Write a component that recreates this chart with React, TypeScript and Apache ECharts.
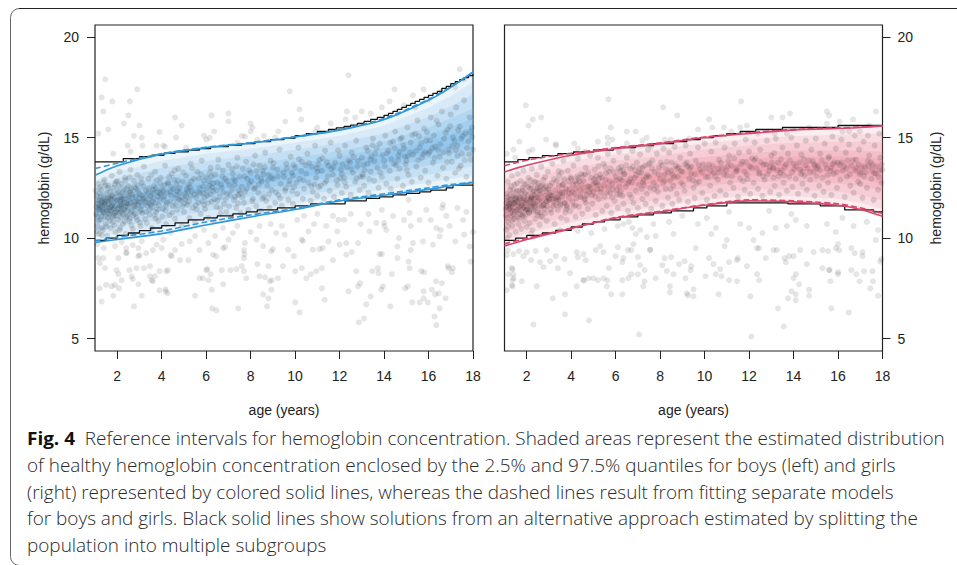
import React, { useEffect, useRef } from "react";
import * as echarts from "echarts";

const knots = [1, 2, 4, 6, 8, 10, 12, 14, 16, 17, 18];
const tickAges = [2, 4, 6, 8, 10, 12, 14, 16, 18];
const tickHb = [5, 10, 15, 20];

// boys: quantile curves, solid
const boysUp = [13.12, 13.6, 14.17, 14.5, 14.73, 15.03, 15.37, 15.9, 16.86, 17.5, 18.27];
const boysLow = [9.78, 9.93, 10.22, 10.65, 11.05, 11.42, 11.84, 12.13, 12.42, 12.6, 12.76];
const boysUpDash = [13.46, 13.72, 14.2, 14.52, 14.75, 15.05, 15.4, 15.95, 16.9, 17.52, 18.25];
const boysLowDash = [9.85, 10.04, 10.35, 10.8, 11.15, 11.47, 11.9, 12.2, 12.5, 12.66, 12.78];
// boys: nested shaded layers
const boysBands = [
  [boysUp, boysLow],
  [[12.85, 13.3, 13.85, 14.19, 14.44, 14.74, 15.08, 15.59, 16.48, 17.07, 17.76], [10.05, 10.22, 10.54, 10.96, 11.34, 11.7, 12.11, 12.42, 12.75, 12.95, 13.13]],
  [[12.54, 12.95, 13.48, 13.83, 14.09, 14.39, 14.73, 15.22, 16.03, 16.56, 17.16], [10.36, 10.57, 10.91, 11.33, 11.69, 12.04, 12.44, 12.77, 13.15, 13.37, 13.58]],
  [[12.17, 12.55, 13.05, 13.41, 13.68, 13.99, 14.33, 14.79, 15.51, 15.96, 16.46], [10.73, 10.97, 11.35, 11.75, 12.1, 12.43, 12.81, 13.17, 13.61, 13.85, 14.09]],
  [[11.9, 12.25, 12.73, 13.1, 13.39, 13.69, 14.04, 14.48, 15.14, 15.53, 15.96], [11.0, 11.26, 11.67, 12.06, 12.39, 12.72, 13.09, 13.46, 13.94, 14.21, 14.47]],
  [[11.67, 11.99, 12.46, 12.83, 13.13, 13.44, 13.79, 14.2, 14.81, 15.15, 15.51], [11.23, 11.51, 11.94, 12.33, 12.65, 12.97, 13.33, 13.71, 14.23, 14.51, 14.8]],
];
const boysStepUp = [[1,13.79],[2.27,13.95],[3,14.05],[3.55,14.12],[4.1,14.22],[4.6,14.29],[5.2,14.38],[5.7,14.45],[6.2,14.55],[7,14.63],[7.6,14.7],[8.2,14.8],[8.9,14.9],[9.5,14.97],[10,15.1],[10.5,15.2],[11,15.3],[11.5,15.4],[11.85,15.48],[12.2,15.55],[12.5,15.62],[12.8,15.7],[13.1,15.8],[13.4,15.9],[13.7,16.0],[14,16.1],[14.2,16.2],[14.4,16.3],[14.6,16.4],[14.8,16.5],[15,16.6],[15.2,16.7],[15.4,16.8],[15.6,16.9],[15.8,17.0],[16,17.1],[16.2,17.2],[16.4,17.3],[16.6,17.45],[16.8,17.55],[17,17.68],[17.2,17.78],[17.4,17.88],[17.6,17.98],[17.8,18.08],[18,18.15]];
const boysStepLow = [[1,9.88],[1.5,10.0],[2,10.13],[2.5,10.25],[3,10.37],[3.5,10.5],[4,10.62],[4.6,10.75],[5.2,10.9],[5.9,11.0],[6.5,11.1],[7.2,11.2],[7.8,11.3],[8.3,11.4],[9.2,11.5],[10,11.6],[10.7,11.7],[12.25,11.85],[13.2,11.97],[13.8,12.05],[14.4,12.15],[15,12.22],[15.6,12.3],[16.1,12.38],[16.8,12.5],[17.1,12.63],[18,12.63]];

const boysHigh = [[1.46,17.9],[1.3,17],[1.37,16.3],[1.78,16.8],[2.57,16.8],[2.9,17.4],[2.5,16.1],[2.3,15.7],[3,15.6],[1.6,15.4],[1.15,15.2],[2.75,15.08],[3.1,15],[2.47,14.6],[3.14,14.6],[2.6,14.3],[1.82,14.2],[3.9,15.28],[4.6,16],[4.9,15.6],[4.64,15],[6.24,16.1],[7,16.2],[7,15.8],[6.36,15.3],[5.9,15.1],[6.16,15],[8,15.7],[8.08,15.5],[8,15.3],[7.6,15.08],[7.75,15.05],[8.6,15.08],[9.76,17.3],[9.56,15.8],[9.24,15.3],[10.2,16.4],[10.28,15.9],[12.4,18.1],[12.33,16.3],[13,16.3],[12.27,15.9],[14.47,17.4],[14.25,16.8],[17.4,18.4],[15.78,17.4],[14.9,16.6],[11,15.5],[4.07,14.6],[3.77,14.6],[4.15,14.55],[5.1,14.5],[6,14.9],[7.4,14.75],[8.3,14.9],[9.1,15],[10.9,15.3],[11.6,15.7],[12.7,16],[13.4,16.2],[13.9,16.5],[15.3,17.1],[16,16.9],[16.6,17.3],[17.2,17.5],[17.6,17.9],[15.4,16.5],[14.6,16.2]];
const boysBelow = [[1.3,6.84],[1.2,7.5],[1.5,7.67],[1.75,7.6],[1.9,7.67],[1.82,7.13],[2.08,7.5],[2.75,6.6],[3.1,7.13],[2.95,7.7],[2.2,7.9],[2.65,8.1],[2.7,7.95],[2.05,8.2],[1.97,8.4],[2.55,8.4],[2.87,8.5],[3.2,8.5],[3.47,8.6],[3.47,8.1],[3.7,8.1],[3.6,7.85],[3.55,7.9],[3.9,8.35],[4.2,8.35],[4.28,8.4],[3.9,7.4],[4.17,7.45],[4.26,7.25],[4.18,7.35],[5.5,7.13],[6.27,6.5],[6.46,6.4],[7.44,6.5],[8.74,6.6],[8.8,7],[8.56,7.2],[8.93,7.43],[8.86,7.85],[8.95,7.9],[9.23,8],[8.4,8.1],[8.65,8.05],[7.8,8],[6,8.4],[6.05,8.45],[6.2,8.2],[6.1,7.9],[6.25,7.43],[6.76,7.7],[5.7,8],[5.85,8],[6.7,8.4],[7.1,8.4],[7.36,8.45],[7.6,8.6],[7.7,8.35],[7.7,9],[7.72,9.2],[7.7,9.4],[8.3,8.7],[8.8,8.6],[9.45,8.6],[10,6.8],[10.2,6.3],[10,8.35],[10.3,8.5],[10.5,8],[10.7,8.2],[10.95,8.35],[11.2,8.5],[11.2,7.5],[11.33,6.93],[11.7,8.9],[12.4,7.35],[12.75,8.35],[12.83,7.6],[12.93,7.75],[13.2,6.7],[12.87,5.8],[13.1,6],[13.4,7.1],[13.87,7.43],[13.95,7.6],[13.47,8.35],[13.72,8.5],[13.75,8.25],[14.35,8.2],[14.28,6.6],[14.95,7.5],[15.07,7.6],[15.27,6.8],[15.6,6.8],[15.78,7.35],[15.78,7],[15.97,6.8],[16.15,7.43],[16.3,7.2],[16.46,7.25],[16.34,7.85],[16.6,7.75],[16.5,6.5],[16.27,6.1],[16.35,5.67],[16.77,7],[16.87,8.6],[17.1,8.5],[17.05,8.3],[15.67,8.35],[15.8,8.3],[15.15,8.5],[15.1,8.83],[14.6,9],[17.9,8.83],[16.9,8.5],[1.15,9],[1.37,9],[1.22,8.75],[1.45,8.5],[2.05,9],[2.4,9.25],[2.42,9.27],[2.4,9.5],[2.95,9.1],[3,9.15],[2.95,9.5],[3.3,9.25],[3.77,9.67],[4.07,9.92],[4.4,10.25],[4.45,9.1],[4.4,9.15],[4.6,9.4],[4.82,8.9],[5.2,8.9],[5.26,9.83],[5.7,9.4],[6.1,9.75],[6.3,9.17],[6.45,9.1],[6.76,9.5],[6.85,9.55],[7,9.92],[7.2,10.25],[6.76,10.5],[7.74,9.75],[8.26,9.92],[8.56,9.6],[8.93,9.33],[9,9.45],[9.15,10.25],[9.53,10.17],[9.68,9.42],[10.3,9.92],[10.35,9.85],[10.6,10.33],[9.94,9.1],[10.8,9.42],[11.1,9.45],[11.24,9.5],[11.5,9.83],[11.9,10.33],[12.2,10.9],[12,9.67],[12.3,9.75],[12.3,9.17],[12.55,9.3],[12.83,9.75],[13.35,10.33],[13.65,10.75],[14,10.75],[14.02,10.6],[14.1,10.4],[13.8,9.2],[13.9,9.2],[14.6,9.58],[14.67,10],[15.15,11.25],[15.2,10.6],[15.3,9.75],[15.2,9.4],[15.75,9.83],[16.2,9.67],[16.5,10.08],[16.35,10.5],[16.65,11.66],[16.62,11.5],[16.8,11.1],[17.2,9.83],[17.6,10.17],[17.85,9.58],[17.55,10.9],[1.1,9.7],[1.4,9.5],[1.9,9.6],[2.2,9.8],[2.7,9.65],[3.1,9.85],[3.6,9.4],[4,9.5],[4.9,9.7],[5.5,10.1],[5.9,10.4],[6.4,10.1],[7.4,10.6],[8,10.3],[8.4,10.6],[8.9,10.7],[9.4,10.6],[10.1,10.9],[10.4,11.1],[10.85,10.7],[11,11.2],[11.4,10.6],[11.7,11.1],[11.95,10.9],[12.5,11.2],[12.95,10.7],[13.3,11.2],[13.9,11.4],[14.4,11.1],[14.9,10.9],[15.1,11.9],[15.6,10.9],[15.9,11.4],[16.1,10.9],[16.55,10.4],[16.95,10.6],[17.3,11.5],[17.7,11.3],[18,10.3]];
const boysInside = [[1.05,11.2],[1.08,12.1],[1.1,10.6],[1.12,11.7],[1.15,12.7],[1.18,10.2],[1.2,11.4],[1.22,11.9],[1.25,10.9],[1.28,12.4],[1.3,11.1],[1.33,11.6],[1.35,10.4],[1.38,12],[1.4,11.3],[1.42,12.9],[1.45,11.8],[1.48,10.7],[1.5,12.2],[1.52,11.5],[1.55,10.1],[1.58,11],[1.6,12.6],[1.62,11.7],[1.65,11.2],[1.68,12.3],[1.7,10.5],[1.72,11.9],[1.75,13.1],[1.78,11.4],[1.8,10.8],[1.82,12.5],[1.85,11.1],[1.88,12],[1.9,11.6],[1.92,10.3],[1.95,12.8],[1.98,11.3],[2,11.9],[2.03,10.9],[2.05,12.3],[2.08,11.5],[2.1,13.3],[2.13,10.5],[2.15,12.1],[2.18,11.7],[2.2,12.7],[2.23,11.2],[2.25,10.7],[2.28,11.95],[2.3,12.4],[2.33,11.4],[2.35,13],[2.38,10.2],[2.4,11.75],[2.43,12.15],[2.45,11.1],[2.48,12.6],[2.5,11.55],[2.55,10.85],[2.58,12.25],[2.6,13.4],[2.65,11.35],[2.68,12],[2.7,10.45],[2.75,12.85],[2.78,11.8],[2.8,11.2],[2.85,12.45],[2.9,13.15],[2.95,11.65],[3,12.2],[3.05,10.6],[3.08,11.4],[3.1,12.75],[3.15,11.95],[3.2,13.55],[3.25,10.95],[3.3,12.35],[3.35,11.6],[3.4,12.95],[3.45,11.15],[3.5,12.1],[3.55,10.5],[3.6,11.8],[3.65,12.6],[3.7,13.3],[3.75,11.3],[3.8,12.3],[3.85,10.85],[3.9,11.9],[3.95,13],[4,12.45],[4.05,11.45],[4.1,12.05],[4.15,13.6],[4.2,10.7],[4.25,11.75],[4.3,12.75],[4.35,11.15],[4.4,12.3],[4.45,13.2],[4.5,11.6],[4.55,12.9],[4.6,10.95],[4.65,12.15],[4.7,11.4],[4.75,13.45],[4.8,12.5],[4.85,11.85],[4.9,10.6],[4.95,12.8],[5,11.3],[5.05,12.2],[5.1,13.1],[5.15,11.65],[5.2,12.65],[5.25,11],[5.3,13.7],[5.35,12.35],[5.4,11.5],[5.45,12.95],[5.5,10.8],[5.55,12],[5.6,13.3],[5.65,11.75],[5.7,12.5],[5.75,11.2],[5.8,13.85],[5.85,12.25],[5.9,12.85],[5.95,11.45],[6,13.05],[6.05,12.1],[6.1,11],[6.15,12.6],[6.2,13.5],[6.25,11.8],[6.3,12.35],[6.35,10.85],[6.4,13.15],[6.45,11.55],[6.5,12.75],[6.55,13.9],[6.6,12.05],[6.65,11.2],[6.7,12.5],[6.75,13.35],[6.8,11.7],[6.85,12.95],[6.9,11.3],[6.95,12.2],[7,13.65],[7.05,12.65],[7.1,11.05],[7.15,12.4],[7.2,13.2],[7.25,11.9],[7.3,12.85],[7.35,11.5],[7.4,14],[7.45,12.15],[7.5,13.05],[7.55,11.25],[7.6,12.55],[7.65,13.45],[7.7,11.75],[7.75,12.3],[7.8,13.8],[7.85,12.95],[7.9,11.4],[7.95,12.7],[8,13.25],[8.1,11.95],[8.15,12.45],[8.2,14.1],[8.25,11.6],[8.3,13.05],[8.35,12.25],[8.4,13.6],[8.45,11.35],[8.5,12.8],[8.55,13.35],[8.6,12.05],[8.65,14.25],[8.7,11.85],[8.75,12.6],[8.8,13.15],[8.85,11.5],[8.9,13.85],[8.95,12.4],[9,12.95],[9.1,11.75],[9.2,13.4],[9.25,12.15],[9.3,14.4],[9.35,12.7],[9.4,11.6],[9.5,13.05],[9.55,12.35],[9.6,13.7],[9.7,11.9],[9.75,12.85],[9.8,14.05],[9.85,13.25],[9.9,11.7],[9.95,12.55],[10,13.5],[10.1,12.2],[10.15,14.5],[10.2,12.95],[10.3,13.8],[10.35,11.95],[10.4,12.45],[10.5,13.2],[10.55,14.2],[10.6,12.75],[10.7,11.85],[10.75,13.55],[10.8,12.3],[10.9,14.6],[10.95,13],[11,12.1],[11.1,13.9],[11.15,12.6],[11.2,13.35],[11.3,11.95],[11.35,14.35],[11.4,12.85],[11.5,13.6],[11.55,12.35],[11.6,14.75],[11.7,13.15],[11.75,12.05],[11.8,13.75],[11.9,12.65],[12,14.1],[12.05,13.4],[12.1,12.25],[12.2,13],[12.25,14.6],[12.3,12.55],[12.4,13.85],[12.5,12.15],[12.55,14.25],[12.6,13.25],[12.7,12.8],[12.75,14.85],[12.8,13.55],[12.9,12.4],[13,14],[13.05,13.05],[13.1,12.6],[13.2,14.5],[13.25,13.7],[13.3,12.25],[13.4,13.3],[13.5,14.95],[13.55,12.85],[13.6,14.2],[13.7,13.5],[13.75,12.5],[13.8,14.7],[13.9,13.05],[14,13.85],[14.05,15.1],[14.1,12.7],[14.2,14.35],[14.25,13.35],[14.3,12.45],[14.4,14.8],[14.45,13.7],[14.5,15.3],[14.6,12.95],[14.65,14.1],[14.7,13.45],[14.8,15],[14.85,12.6],[14.9,14.45],[15,13.85],[15.05,15.5],[15.1,13.15],[15.2,14.75],[15.25,12.8],[15.3,14.15],[15.4,15.2],[15.45,13.55],[15.5,15.85],[15.6,14.5],[15.65,13],[15.7,14],[15.8,15.45],[15.85,13.35],[15.9,14.85],[16,12.75],[16.05,14.3],[16.1,16],[16.2,13.75],[16.25,15.1],[16.3,14.55],[16.4,13.1],[16.45,15.65],[16.5,14.05],[16.6,16.3],[16.65,13.5],[16.7,14.95],[16.8,12.95],[16.85,15.4],[16.9,14.4],[17,16.15],[17.05,13.8],[17.1,15],[17.2,13.25],[17.25,16.5],[17.3,14.6],[17.4,15.55],[17.45,13.6],[17.5,14.2],[17.6,16.85],[17.65,15.2],[17.7,13.05],[17.8,14.8],[17.85,16],[17.9,13.9],[17.95,15.5],[18,14.4],[1.3,10.5],[2.1,10.4],[1.6,12],[1.9,11.25],[2.4,11.05],[2.9,10.9],[3.3,11.3],[1.15,11.45],[1.45,11.05],[1.7,11.55],[2.2,11.3],[2.6,11.75],[3.1,11.6],[3.6,12.4],[4.1,11.9],[4.7,12.35],[5.3,12.1],[5.9,11.65],[6.5,11.85],[7.3,12.05],[8.2,12.5],[9,13.5],[9.9,13.1],[11,13.3],[12.1,13.2],[13.4,13.9],[14.7,14.3],[16,14.2],[17.3,14.1]];
const boysInsideMore = [[1.03,12.35],[1.31,10.15],[2.72,11.13],[1.87,10.62],[3.43,12.47],[1.21,12.23],[2.16,11.03],[4.37,11.83],[1.67,10.87],[3.02,10.77],[5.13,12.43],[1.43,11.63],[2.37,12.87],[6.32,12.73],[1.13,11.87],[3.67,11.13],[2.84,11.47],[4.92,11.57],[1.77,12.13],[7.28,12.63],[2.52,11.87],[1.09,10.33],[3.83,12.07],[5.57,11.43],[1.56,12.47],[2.93,12.33],[4.13,12.63],[6.73,13.07],[2.13,11.63],[1.37,11.27],[3.27,11.77],[8.07,11.83],[1.94,11.13],[2.64,10.63],[5.87,12.57],[4.58,13.37],[1.26,11.53],[3.53,13.13],[2.41,12.43],[7.03,11.57],[1.71,11.33],[6.07,11.73],[4.78,11.93],[2.77,12.53],[3.13,11.23],[9.13,12.27],[1.47,12.63],[5.33,12.83],[2.07,12.57],[3.73,10.97],[8.47,12.93],[1.83,11.73],[4.23,12.27],[6.47,12.37],[2.27,11.47],[10.07,12.77],[3.37,12.23],[1.16,10.87],[5.77,13.17],[7.53,12.23],[2.56,13.03],[4.47,11.27],[1.63,11.47],[3.93,12.73],[6.87,11.93],[2.87,11.03],[9.47,13.27],[1.96,12.23],[5.03,11.73],[8.83,12.17],[3.17,12.57],[1.34,11.83],[4.67,12.67],[7.83,12.47],[2.33,10.83],[6.17,13.27],[11.07,12.53],[3.57,11.53],[2.01,12.83],[5.47,12.17],[1.73,12.07],[4.03,11.07],[8.63,13.53],[2.47,11.67],[6.63,11.47],[3.47,11.43],[10.47,13.63],[1.27,12.07],[5.23,11.83],[7.17,13.43],[2.83,12.07],[4.33,13.03],[9.73,12.67],[1.51,10.57],[3.77,12.87],[6.27,12.53],[12.13,13.67],[2.23,12.27],[8.27,13.33],[4.87,12.03],[5.67,12.97],[1.89,12.67],[3.07,12.97],[7.43,11.73],[11.47,13.07],[2.63,12.47],[4.53,12.43],[9.33,11.97],[6.93,12.83],[1.11,11.07],[3.63,11.97],[5.93,12.03],[10.73,12.57],[2.97,11.77],[7.73,13.07],[4.17,11.37],[8.93,13.03],[1.59,11.23],[3.33,10.73],[6.53,13.53],[13.07,13.63],[2.12,11.83],[5.37,13.47],[11.87,12.87],[4.73,12.87],[9.57,12.47],[2.43,11.33],[7.07,12.13],[3.87,11.63],[12.47,13.77],[6.03,12.37],[1.79,11.07],[8.53,11.97],[5.17,12.33],[10.27,13.33],[2.67,12.17],[4.43,12.53],[13.57,13.83],[7.37,13.57],[3.23,12.03],[11.23,13.97],[6.37,11.93],[9.87,12.33],[1.23,12.53],[5.53,11.63],[14.13,14.23],[8.13,13.67],[2.91,12.63],[12.77,12.97],[4.97,13.27],[10.87,12.67],[3.97,12.17],[7.63,12.03],[13.27,14.33],[6.77,12.27],[15.07,14.07],[1.39,12.77],[9.03,13.73],[2.57,10.97],[11.63,13.43],[5.07,11.93],[14.53,13.63],[3.43,11.73],[8.37,12.67],[12.33,13.53],[6.13,12.83],[16.07,14.87],[4.07,12.33],[10.17,13.93],[13.83,13.27],[7.93,13.37],[2.17,11.57],[15.53,13.87],[11.93,14.37],[5.27,12.53],[9.23,13.07],[14.87,14.63],[3.03,11.33],[12.93,13.03],[17.07,14.57],[6.67,12.67],[16.53,14.67],[8.77,12.87],[13.43,14.07],[4.63,11.67],[10.63,13.73],[15.83,14.27],[7.23,12.93],[17.53,15.07],[14.33,13.93],[11.33,12.73],[2.77,11.57],[16.27,13.97],[9.63,13.47],[12.63,14.03],[5.73,12.23],[15.27,15.13],[3.73,12.47],[17.83,14.17],[13.13,13.37],[8.03,12.83],[14.73,14.93],[10.37,12.87],[16.77,15.23],[6.23,13.07],[11.73,13.53],[17.33,15.37],[4.27,12.73],[15.67,14.73],[12.23,12.77],[14.03,13.57],[9.93,13.63],[16.93,14.23],[7.47,12.37],[13.67,14.47],[17.73,14.47],[15.03,13.37],[11.03,13.67],[5.83,11.83],[16.43,14.37],[12.83,13.83],[14.47,14.47],[8.57,13.17],[17.17,14.83],[13.93,14.13],[15.43,14.33],[10.97,13.47],[16.67,14.27],[17.63,13.87],[14.27,14.73],[12.53,13.43],[15.93,15.27],[17.47,14.93],[13.33,12.93],[16.17,14.47],[14.97,13.67],[17.97,15.03],[15.57,15.07],[16.83,13.77],[11.43,13.77],[13.47,14.63],[17.23,14.37],[15.17,14.27],[16.97,15.57],[14.63,13.87],[12.03,12.97],[15.77,14.17],[17.37,13.47],[16.37,15.83],[13.03,13.17],[17.87,15.27],[14.93,14.07],[1.19,11.63],[1.53,11.37],[1.41,11.73],[2.02,11.43],[2.31,11.77],[1.69,11.97],[2.61,11.27],[1.07,11.53],[1.85,11.47],[2.19,12.03],[3.19,11.83],[2.49,12.03],[3.41,11.93],[1.29,11.77],[2.89,11.83],[3.71,11.73],[1.57,11.83],[2.11,11.27],[4.19,11.63],[3.59,12.23],[2.74,11.63],[1.97,11.87],[4.61,11.97],[3.11,12.13],[2.38,11.57],[5.09,12.07],[3.81,11.43],[1.33,11.37],[2.21,11.93],[4.41,12.13],[1.76,11.63],[2.99,11.97],[5.61,12.27],[3.51,11.67],[4.81,12.27],[1.49,11.93],[6.19,12.17],[2.59,12.33],[3.91,12.23]];

// girls
const girlsUp = [13.29, 13.62, 14.12, 14.45, 14.7, 15.0, 15.2, 15.37, 15.45, 15.5, 15.58];
const girlsLow = [9.6, 9.93, 10.47, 11.0, 11.3, 11.63, 11.85, 11.8, 11.63, 11.42, 11.08];
const girlsUpDash = [13.6, 13.87, 14.22, 14.5, 14.74, 15.03, 15.24, 15.4, 15.48, 15.52, 15.58];
const girlsLowDash = [9.72, 9.98, 10.5, 11.02, 11.33, 11.66, 11.9, 11.85, 11.7, 11.5, 11.22];
const girlsBands = [
  [girlsUp, girlsLow],
  [[12.99, 13.33, 13.83, 14.17, 14.43, 14.73, 14.93, 15.08, 15.14, 15.17, 15.22], [9.9, 10.23, 10.76, 11.28, 11.57, 11.9, 12.12, 12.08, 11.94, 11.75, 11.44]],
  [[12.65, 12.98, 13.48, 13.84, 14.11, 14.41, 14.61, 14.74, 14.78, 14.79, 14.79], [10.25, 10.58, 11.11, 11.6, 11.9, 12.22, 12.43, 12.42, 12.3, 12.13, 11.87]],
  [[12.24, 12.57, 13.08, 13.46, 13.73, 14.04, 14.24, 14.35, 14.36, 14.34, 14.3], [10.65, 10.98, 11.51, 11.98, 12.27, 12.59, 12.8, 12.81, 12.72, 12.58, 12.36]],
  [[11.95, 12.28, 12.79, 13.19, 13.46, 13.77, 13.97, 14.06, 14.06, 14.01, 13.94], [10.95, 11.28, 11.81, 12.26, 12.54, 12.86, 13.07, 13.1, 13.02, 12.91, 12.72]],
  [[11.69, 12.02, 12.54, 12.94, 13.22, 13.53, 13.74, 13.81, 13.79, 13.73, 13.62], [11.21, 11.54, 12.06, 12.5, 12.78, 13.09, 13.3, 13.35, 13.29, 13.19, 13.04]],
];
const girlsStepUp = [[1,13.79],[1.6,13.9],[2.1,14],[2.7,14.1],[3.4,14.2],[4.1,14.28],[5,14.38],[5.9,14.5],[6.9,14.6],[7.7,14.7],[8.6,14.8],[9.2,14.9],[9.8,15],[10.4,15.1],[11,15.2],[11.6,15.3],[12.3,15.4],[13.5,15.5],[16,15.6],[18,15.6]];
const girlsStepLow = [[1,9.88],[1.5,10],[2,10.13],[2.7,10.25],[3.3,10.38],[4,10.55],[4.5,10.7],[5,10.8],[5.5,10.9],[6.2,11.05],[7,11.15],[7.7,11.25],[8.5,11.35],[9.5,11.5],[10.1,11.6],[11,11.75],[13.75,11.7],[15.2,11.6],[16.3,11.4],[17.6,11.3],[18,11.3]];

const girlsHigh = [[1.96,16.6],[2.08,15.6],[2.27,15.9],[2.65,16],[1.67,14.8],[1.4,14.4],[1.1,14.2],[1.48,14],[2.08,14.3],[2.26,14.4],[2.87,14.9],[3.3,14.67],[3.32,14.6],[4.14,14.7],[4.3,14.45],[5.2,14.8],[5.67,16.9],[5.78,15.5],[5.63,15],[5.85,14.9],[5.65,14.7],[6.5,15.3],[6.9,15.3],[6.5,14.7],[7.4,15],[7.2,14.85],[8.14,16.5],[8.77,16.1],[8.47,14.9],[8.2,14.9],[9.7,15.4],[10.2,15.9],[10.34,15.5],[10.87,15.5],[11.2,15.3],[11.6,15.5],[11.9,15.6],[11.64,16.8],[13,16],[13.5,16],[13.84,16.2],[13.15,15.2],[13.7,15.2],[15.5,16.3],[15.6,16.1],[15.5,15.7],[16.07,15.8],[16.67,15.9],[17.7,16.3],[17.4,15.6],[16.5,15.3],[16.2,15.3],[16.97,15.3],[4.6,14.3],[7.6,14.55],[9.3,14.95],[12.4,15.2],[14.7,15.5]];
const girlsBelow = [[2.3,5.7],[3.72,6.2],[4.8,5.9],[3.17,7],[3.72,7.2],[7.05,5.2],[12.1,5.1],[13.3,6.5],[13.56,5.6],[15.7,6.5],[16.48,6.3],[12.06,7.1],[10.63,7.2],[9.5,7.1],[9.2,7.25],[9.25,7.15],[9.5,7.45],[8.44,7.6],[8.44,7.3],[7.24,7.6],[6.3,7.2],[5.8,7.2],[5.6,7.6],[4.25,7.6],[2.45,7.6],[1.78,7.85],[1.37,7.6],[1.33,7.65],[1.1,7.4],[1.37,7.9],[1.4,8],[1.18,8.2],[1.33,8.5],[1.36,8.45],[1.4,8.2],[4.55,7.9],[4.57,7.9],[4.78,8],[5,8],[5.2,7.9],[5.45,8],[5.62,7.9],[6.3,7.9],[6.57,8],[6.7,8.2],[7,8.2],[7.3,7.85],[7.8,8],[8.3,8.35],[8.6,8.2],[9.14,8],[9.37,8.4],[10.04,8.1],[10.5,8.2],[10.76,8.1],[11.1,7.9],[11.46,7.85],[12.45,7.9],[12.36,8.2],[13.75,7],[14.1,6.9],[13.9,7.35],[14.1,7.2],[14.7,7.43],[14.7,7.13],[14.25,7.7],[14,8],[14.1,8.2],[15.66,7.85],[16,8.2],[15.6,8.4],[15.62,8.42],[15.3,8.5],[16.6,8.4],[16.82,8.2],[17.17,8.35],[17.55,8.35],[17.57,7.85],[17.45,7.5],[17.8,7.13],[16.97,7.85],[17.9,8.83],[16,8.3],[1.15,9.4],[1.1,9.15],[1.4,9.2],[1.65,9.35],[1.85,9.1],[2,9.3],[2.2,8.9],[2.4,9.35],[2.6,8.8],[2.75,8.55],[2.9,9.4],[3.05,8.85],[3.3,9.1],[3.4,8.5],[3.7,8.95],[3.95,8.25],[4.25,9.3],[4.3,9.05],[4.55,9.2],[4.65,8.9],[5.1,9.4],[5.3,9.6],[5.45,9.3],[5.7,8.5],[6,9.1],[6.1,9.55],[6.3,8.8],[6.35,9],[6.55,9.4],[6.7,9.4],[6.8,9.7],[7,9.05],[7.1,8.65],[7.3,8.4],[7.55,9.4],[7.55,9.42],[7.8,10.1],[8.1,8.65],[8.2,9],[8.5,9.05],[8.85,8.7],[9.1,8.85],[9.4,8.6],[9.6,9.5],[10.2,9],[10.4,8.7],[10.7,8.45],[10.9,9.6],[11.1,8.8],[11.45,8.9],[11.5,9],[11.9,8.6],[12.2,9.9],[12.35,9.5],[12.45,9.5],[12.75,9],[13.1,9.4],[13.25,9.4],[13.6,9],[13.65,8.8],[13.8,9.1],[14,9.1],[14.3,9.4],[14.6,8.7],[14.9,9.3],[15.3,9.4],[15.55,9.35],[15.9,9.5],[16,9.7],[16.05,9.4],[16.6,9.5],[16.75,9.25],[17.1,9.3],[17.1,9.1],[17.7,9.9],[17.95,8.95],[1.1,10],[2.2,10.2],[3.5,10.4],[4.3,10.35],[4.9,10.25],[5.5,10.45],[6.1,10.6],[6.35,10.7],[6.6,10.8],[6.75,10.5],[6.9,10.2],[7.1,10.4],[7.4,10.05],[7.7,10.7],[8.4,10.8],[8.6,10.2],[9.7,10.7],[10.3,10.2],[10.5,10.5],[11,9.9],[11.6,10.7],[12,10.5],[12.6,10.25],[13.2,10.5],[13.7,10.6],[14.1,10.9],[14.6,10.6],[15.5,10.7],[15.9,10.3],[16.2,11],[16.7,10.6],[17.3,10.8],[17.8,10.4],[10.1,11],[9,11.1],[11.1,11.3],[12.9,11.35],[13.9,11.2]];
const girlsInside = [[1.05,11.4],[1.07,10.4],[1.1,12.2],[1.12,11],[1.15,12.8],[1.17,10.8],[1.2,11.7],[1.22,10.15],[1.25,12.4],[1.27,11.25],[1.3,11.9],[1.33,13.1],[1.35,10.6],[1.37,11.5],[1.4,12.1],[1.43,10.95],[1.45,12.65],[1.47,11.3],[1.5,10.3],[1.53,11.8],[1.55,12.35],[1.57,11.05],[1.6,13.2],[1.63,10.7],[1.65,11.55],[1.67,12.05],[1.7,11.2],[1.73,12.85],[1.75,10.45],[1.78,11.65],[1.8,12.5],[1.83,11.1],[1.85,13.35],[1.87,11.95],[1.9,10.85],[1.93,12.25],[1.95,11.4],[1.97,12.7],[2,10.55],[2.03,11.75],[2.05,12.15],[2.08,13],[2.1,11.25],[2.13,10.75],[2.15,12.45],[2.18,11.55],[2.2,11.95],[2.23,13.45],[2.25,10.4],[2.28,12.3],[2.3,11.35],[2.33,12.8],[2.35,11.7],[2.38,10.95],[2.4,12.05],[2.45,13.15],[2.48,11.15],[2.5,12.5],[2.55,11.6],[2.58,10.65],[2.6,12.2],[2.65,13.55],[2.68,11.85],[2.7,11.05],[2.75,12.9],[2.8,11.45],[2.85,12.35],[2.9,10.85],[2.95,13.3],[3,11.9],[3.05,12.6],[3.1,11.25],[3.15,13.7],[3.2,12.1],[3.25,10.7],[3.3,11.65],[3.35,12.85],[3.4,11.4],[3.45,13.1],[3.5,12.3],[3.55,11],[3.6,12.65],[3.65,13.85],[3.7,11.75],[3.75,12.45],[3.8,10.9],[3.85,13.35],[3.9,12],[3.95,11.35],[4,12.95],[4.05,11.8],[4.1,13.6],[4.15,12.2],[4.2,11.05],[4.25,12.7],[4.3,13.95],[4.35,11.55],[4.4,12.4],[4.45,13.2],[4.5,11.2],[4.55,12.85],[4.6,11.9],[4.65,13.5],[4.7,12.15],[4.75,11.45],[4.8,12.55],[4.85,14.1],[4.9,13],[4.95,11.7],[5,12.3],[5.05,13.4],[5.1,11.15],[5.15,12.75],[5.2,14],[5.25,11.95],[5.3,13.15],[5.35,12.45],[5.4,11.35],[5.45,13.7],[5.5,12.05],[5.55,12.9],[5.6,11.6],[5.65,14.2],[5.7,13.3],[5.75,12.25],[5.8,11.25],[5.85,12.7],[5.9,13.85],[5.95,11.85],[6,13.05],[6.05,12.4],[6.1,11.5],[6.15,14.3],[6.2,12.95],[6.25,13.55],[6.3,12.1],[6.35,11.7],[6.4,13.2],[6.45,12.55],[6.5,14],[6.55,11.35],[6.6,12.8],[6.65,13.45],[6.7,12],[6.75,14.35],[6.8,11.75],[6.85,13],[6.9,12.35],[6.95,13.75],[7,11.5],[7.05,12.65],[7.1,14.15],[7.15,13.25],[7.2,11.95],[7.25,12.9],[7.3,13.6],[7.35,11.7],[7.4,12.2],[7.45,14.4],[7.5,13.05],[7.55,12.5],[7.6,11.45],[7.65,13.85],[7.7,12.75],[7.75,13.3],[7.8,11.85],[7.85,14.2],[7.9,12.3],[7.95,13.5],[8,12.95],[8.1,11.6],[8.15,14.45],[8.2,13.15],[8.25,12.45],[8.3,13.8],[8.35,12],[8.4,14.25],[8.45,12.85],[8.5,13.35],[8.55,11.7],[8.6,12.6],[8.65,14.55],[8.7,13.6],[8.75,12.2],[8.8,13.05],[8.85,11.9],[8.9,14],[8.95,12.75],[9,13.3],[9.1,12.35],[9.15,14.6],[9.2,13.75],[9.25,11.8],[9.3,12.95],[9.35,14.2],[9.4,13.2],[9.5,12.5],[9.55,12],[9.6,13.85],[9.7,14.5],[9.75,12.8],[9.8,13.4],[9.9,12.25],[10,14.7],[10.05,13.05],[10.1,11.9],[10.2,13.65],[10.25,12.6],[10.3,14.3],[10.4,13.25],[10.45,12.1],[10.5,14.75],[10.6,12.9],[10.65,13.9],[10.7,12.35],[10.8,13.45],[10.9,14.5],[10.95,12.15],[11,13.1],[11.1,14.1],[11.15,12.75],[11.2,13.6],[11.3,12.5],[11.35,14.7],[11.4,13.3],[11.5,12.05],[11.55,14.25],[11.6,12.95],[11.7,13.8],[11.8,12.4],[11.85,14.9],[11.9,13.15],[12,14.3],[12.05,12.2],[12.1,13.5],[12.2,12.75],[12.25,14.75],[12.3,13.95],[12.4,12.45],[12.45,13.2],[12.5,14.4],[12.6,12.1],[12.65,13.65],[12.7,12.9],[12.8,14.85],[12.9,13.35],[12.95,12.3],[13,14.1],[13.1,13],[13.15,12.6],[13.2,14.95],[13.3,13.75],[13.35,12.15],[13.4,13.25],[13.5,14.5],[13.55,12.75],[13.6,13.55],[13.7,12.35],[13.75,14.2],[13.8,13.05],[13.9,15],[13.95,12.55],[14,13.7],[14.1,12.95],[14.15,14.6],[14.2,12.2],[14.3,13.4],[14.35,14.15],[14.4,12.7],[14.5,13.1],[14.55,14.85],[14.6,12.4],[14.7,13.85],[14.75,12.9],[14.8,14.4],[14.9,13.3],[14.95,12.1],[15,14.95],[15.1,13.6],[15.15,12.6],[15.2,14.2],[15.3,13],[15.35,12.3],[15.4,14.7],[15.5,13.45],[15.55,12.75],[15.6,14.05],[15.7,12.15],[15.75,15.05],[15.8,13.2],[15.9,14.45],[15.95,12.5],[16,13.75],[16.1,12.9],[16.15,14.9],[16.2,13.35],[16.3,12.05],[16.35,14.25],[16.4,13.05],[16.5,14.65],[16.55,12.6],[16.6,13.6],[16.7,12.25],[16.75,15.1],[16.8,13.9],[16.9,12.8],[16.95,14.4],[17,13.25],[17.1,12],[17.15,14.8],[17.2,13.55],[17.3,12.5],[17.35,15.1],[17.4,14.1],[17.5,12.95],[17.55,13.65],[17.6,11.9],[17.65,14.6],[17.7,13.2],[17.8,12.4],[17.85,15.2],[17.9,14],[17.95,12.75],[18,13.4],[1.3,11.1],[1.6,11.4],[1.9,12],[2.2,12.6],[2.5,11.3],[2.8,12.1],[3.2,11.6],[3.6,12.05],[4.2,12.45],[1.15,11.55],[1.45,11.75],[1.8,11.15],[2.35,12.15],[2.9,11.6],[3.45,12.6],[5.2,12.65],[6.2,13.3],[7.2,13.5],[8.2,12.85],[9.4,13.55],[10.6,13.45],[11.8,13.3],[13.1,13.45],[14.4,13.3],[15.7,13.5],[17,12.7]];
const girlsInsideMore = [[1.04,11.13],[1.29,12.57],[2.71,12.63],[1.89,11.53],[3.44,11.87],[1.21,11.43],[2.17,12.87],[4.37,12.83],[1.66,10.97],[3.03,12.27],[5.12,13.07],[1.42,11.17],[2.36,11.43],[6.33,13.37],[1.14,12.03],[3.68,12.93],[2.83,11.23],[4.93,12.13],[1.76,12.23],[7.27,12.63],[2.53,12.73],[1.08,11.73],[3.82,11.53],[5.57,13.23],[1.56,12.73],[2.94,12.03],[4.12,11.57],[6.74,12.77],[2.14,11.87],[1.36,10.87],[3.28,12.37],[8.08,13.63],[1.94,11.13],[2.63,11.07],[5.86,12.43],[4.59,12.37],[1.26,12.13],[3.52,11.63],[2.41,12.77],[7.04,13.27],[1.71,11.93],[6.06,12.17],[4.77,13.27],[2.77,11.67],[3.13,12.73],[9.13,13.67],[1.47,11.97],[5.33,12.27],[2.07,12.53],[3.73,11.27],[8.47,12.43],[1.83,12.37],[4.23,11.97],[6.47,13.63],[2.27,11.63],[10.07,13.47],[3.37,12.03],[1.16,10.57],[5.77,13.47],[7.53,13.73],[2.56,11.93],[4.47,12.63],[1.63,12.33],[3.93,12.43],[6.87,13.37],[2.87,12.57],[9.47,12.87],[1.96,11.73],[5.03,12.93],[8.83,13.53],[3.17,11.93],[1.34,11.67],[4.67,11.73],[7.83,12.57],[2.33,12.33],[6.17,12.57],[11.07,13.83],[3.57,13.27],[2.01,11.43],[5.47,12.63],[1.73,11.37],[4.03,12.27],[8.63,13.03],[2.47,11.83],[6.63,12.17],[3.47,12.17],[10.47,13.07],[1.27,11.53],[5.23,13.57],[7.17,12.43],[2.83,13.03],[4.33,12.97],[9.73,13.63],[1.51,12.07],[3.77,11.43],[6.27,12.87],[12.13,13.97],[2.23,12.03],[8.27,13.43],[4.87,12.43],[5.67,12.53],[1.89,12.67],[3.07,11.43],[7.43,13.13],[11.47,13.37],[2.63,12.57],[4.53,13.13],[9.33,13.47],[6.93,13.13],[1.11,11.87],[3.63,12.67],[5.93,13.27],[10.73,13.73],[2.97,12.43],[7.73,12.43],[4.17,12.83],[8.93,13.33],[1.59,11.63],[3.33,11.93],[6.53,12.73],[13.07,13.53],[2.12,11.37],[5.37,13],[11.87,13.77],[4.73,12.57],[9.57,13.17],[2.43,12.47],[7.07,13.47],[3.87,12.83],[12.47,13.27],[6.03,12.87],[1.79,11.77],[8.53,13.77],[5.17,12.43],[10.27,13.33],[2.67,11.57],[4.43,12.03],[13.57,13.13],[7.37,13.03],[3.23,12.93],[11.23,13.07],[6.37,13.17],[9.87,13.27],[1.23,11.93],[5.53,13.53],[14.13,13.57],[8.13,12.73],[2.91,11.83],[12.77,13.67],[4.97,12.67],[10.87,13.17],[3.97,13.03],[7.63,13.47],[13.27,13.37],[6.77,13.57],[15.07,13.47],[1.39,12.37],[9.03,12.63],[2.57,12.37],[11.63,13.67],[5.07,12.77],[14.53,13.63],[3.43,13.33],[8.37,13.27],[12.33,13.47],[6.13,13.47],[16.07,13.63],[4.07,12.67],[10.17,13.03],[13.83,13.87],[7.93,13.17],[2.17,11.63],[15.53,13.13],[11.93,12.93],[5.27,12.97],[9.23,13.57],[14.87,13.83],[3.03,12.13],[12.93,13.53],[17.07,13.47],[6.67,12.97],[16.53,13.17],[8.77,13.47],[13.43,13.93],[4.63,13.17],[10.63,13.27],[15.83,13.77],[7.23,12.77],[17.53,13.37],[14.33,13.17],[11.33,13.97],[2.77,12.47],[16.27,13.57],[9.63,12.73],[12.63,13.07],[5.73,12.83],[15.27,13.87],[3.73,12.27],[17.83,13.03],[13.13,14.23],[8.03,13.77],[14.73,13.27],[10.37,13.57],[16.77,13.37],[6.23,12.33],[11.73,12.83],[17.33,13.83],[4.27,13.07],[15.67,13.33],[12.23,13.87],[14.03,13.43],[9.93,13.67],[16.93,13.67],[7.47,13.67],[13.67,13.67],[17.73,13.57],[15.03,13.07],[11.03,13.57],[5.83,12.03],[16.43,13.87],[12.83,13.17],[14.47,13.93],[8.57,13.13],[17.17,13.07],[13.93,13.27],[15.43,13.67],[10.97,13.37],[16.67,13.87],[17.63,13.23],[14.27,13.77],[12.53,13.77],[15.93,13.27],[17.47,13.77],[13.33,13.07],[16.17,13.77],[14.97,13.57],[17.97,13.67],[15.57,13.97],[16.83,13.47],[11.43,13.47],[13.47,13.37],[17.23,13.27],[15.17,13.37],[16.97,13.17],[14.63,13.47],[12.03,13.57],[15.77,13.67],[17.37,13.57],[16.37,13.47],[13.03,13.77],[17.87,13.37],[14.93,13.67],[1.19,11.63],[1.53,11.37],[1.41,11.73],[2.02,11.43],[2.31,11.77],[1.69,11.97],[2.61,11.27],[1.07,11.53],[1.85,11.47],[2.19,12.03],[3.19,11.83],[2.49,12.03],[3.41,11.93],[1.29,11.77],[2.89,11.83],[3.71,11.73],[1.57,11.83],[2.11,11.27],[4.19,11.63],[3.59,12.23],[2.74,11.63],[1.97,11.87],[4.61,11.97],[3.11,12.13],[2.38,11.57],[5.09,12.07],[3.81,11.63],[1.33,11.37],[2.21,11.93],[4.41,12.13],[1.76,11.63],[2.99,11.97],[5.61,12.27],[3.51,11.67],[4.81,12.27],[1.49,11.93],[6.19,12.17],[2.59,12.33],[3.91,12.23]];

const captionLines = [
  "Reference intervals for hemoglobin concentration. Shaded areas represent the estimated distribution",
  "of healthy hemoglobin concentration enclosed by the 2.5% and 97.5% quantiles for boys (left) and girls",
  "(right) represented by colored solid lines, whereas the dashed lines result from fitting separate models",
  "for boys and girls. Black solid lines show solutions from an alternative approach estimated by splitting the",
  "population into multiple subgroups",
];

const boysAlphas = [0.14, 0.14, 0.17, 0.2, 0.22, 0.25];
const girlsAlphas = [0.14, 0.15, 0.17, 0.2, 0.22, 0.25];
const AXIS_FONT = "Liberation Sans";
const CAPTION_FONT = "Open Sans";
const INK = "#222222";

function pairUp(xs: number[], ys: number[]) {
  return xs.map((x, i) => [x, ys[i]]);
}

function bandSeries(idx: number, up: number[], low: number[], fill: string) {
  return {
    type: "custom",
    xAxisIndex: idx,
    yAxisIndex: idx,
    silent: true,
    z: 1,
    encode: { x: 0, y: 1 },
    data: knots.map((k, i) => [k, up[i], low[i]]),
    renderItem: (params: any, api: any) => {
      if (params.dataIndex !== 0) return null;
      const top = knots.map((k, i) => api.coord([k, up[i]]));
      const bottom = knots.map((k, i) => api.coord([k, low[i]])).reverse();
      return { type: "polygon", shape: { points: [...top, ...bottom] }, style: { fill } };
    },
  };
}

function lineSeries(idx: number, data: number[][], color: string, opts: any = {}) {
  return {
    type: "line",
    xAxisIndex: idx,
    yAxisIndex: idx,
    data,
    symbol: "none",
    silent: true,
    z: opts.step ? 3 : 4,
    step: opts.step || false,
    smooth: opts.step ? false : 0.3,
    lineStyle: { color, width: opts.step ? 1.3 : 1.6, type: opts.dash || "solid" },
  };
}

function dots(idx: number, data: number[][], alpha: number) {
  return {
    type: "scatter",
    xAxisIndex: idx,
    yAxisIndex: idx,
    data,
    symbolSize: 6,
    silent: true,
    z: 2,
    itemStyle: { color: `rgba(30,30,30,${alpha})` },
  };
}

function panel(idx: number, o: any) {
  return [
    ...o.bands.map(([u, l]: number[][], i: number) => bandSeries(idx, u, l, o.fill.replace("A", String(o.alphas[i])))),
    dots(idx, o.high, 0.14),
    dots(idx, o.below, 0.14),
    dots(idx, o.inside, 0.18),
    dots(idx, o.more, 0.17),
    lineSeries(idx, o.stepUp, "#111111", { step: "end" }),
    lineSeries(idx, o.stepLow, "#111111", { step: "end" }),
    lineSeries(idx, pairUp(knots, o.upDash), o.line, { dash: [6, 3] }),
    lineSeries(idx, pairUp(knots, o.lowDash), o.line, { dash: [6, 3] }),
    lineSeries(idx, pairUp(knots, o.up), o.line),
    lineSeries(idx, pairUp(knots, o.low), o.line),
  ];
}

function makeXAxis(gridIndex: number) {
  return {
    type: "value",
    gridIndex,
    min: 1,
    max: 18,
    splitLine: { show: false },
    axisLine: { show: false },
    axisTick: { show: true, length: 8, customValues: tickAges, lineStyle: { color: INK, width: 1 } },
    axisLabel: {
      customValues: tickAges,
      margin: 18,
      fontFamily: AXIS_FONT,
      fontSize: 14,
      color: INK,
      showMinLabel: true,
      showMaxLabel: true,
      hideOverlap: false,
    },
    name: "age (years)",
    nameLocation: "middle",
    nameGap: 52,
    nameTextStyle: { fontFamily: AXIS_FONT, fontSize: 14, color: INK },
  };
}

function makeYAxis(gridIndex: number, position: string) {
  return {
    type: "value",
    gridIndex,
    position,
    min: 4.38,
    max: 20.6,
    splitLine: { show: false },
    axisLine: { show: false },
    axisTick: { show: true, length: 8, customValues: tickHb, lineStyle: { color: INK, width: 1 } },
    axisLabel: {
      customValues: tickHb,
      margin: position === "left" ? 16 : 15,
      fontFamily: AXIS_FONT,
      fontSize: 14,
      color: INK,
    },
    name: "hemoglobin (g/dL)",
    nameLocation: "middle",
    nameRotate: 90,
    nameGap: position === "left" ? 44 : 46,
    nameTextStyle: { fontFamily: AXIS_FONT, fontSize: 14, color: INK },
  };
}

export default function App() {
  const ref = useRef<HTMLDivElement>(null);
  useEffect(() => {
    const chart = echarts.init(ref.current!, undefined, { renderer: "svg" });
    const boxGrid = { show: true, borderColor: INK, borderWidth: 1.2, backgroundColor: "#fff", top: 25, width: 378, height: 326 };
    const captionFont = `300 18px "${CAPTION_FONT}"`;
    const stretch = 1.052;
    chart.setOption({
      animation: false,
      backgroundColor: "#fff",
      grid: [
        { ...boxGrid, left: 95 },
        { ...boxGrid, left: 504.5 },
      ],
      xAxis: [makeXAxis(0), makeXAxis(1)],
      yAxis: [makeYAxis(0, "left"), makeYAxis(1, "right")],
      series: [
        ...panel(0, {
          bands: boysBands, alphas: boysAlphas, fill: "rgba(104,178,230,A)", high: boysHigh, below: boysBelow, inside: boysInside, more: boysInsideMore,
          stepUp: boysStepUp, stepLow: boysStepLow, up: boysUp, low: boysLow, upDash: boysUpDash, lowDash: boysLowDash, line: "#2f97d8",
        }),
        ...panel(1, {
          bands: girlsBands, alphas: girlsAlphas, fill: "rgba(236,130,150,A)", high: girlsHigh, below: girlsBelow, inside: girlsInside, more: girlsInsideMore,
          stepUp: girlsStepUp, stepLow: girlsStepLow, up: girlsUp, low: girlsLow, upDash: girlsUpDash, lowDash: girlsLowDash, line: "#d8486c",
        }),
      ],
      graphic: [
        {
          type: "rect",
          silent: true,
          z: -1,
          shape: { x: 10.5, y: 8.5, width: 1000, height: 557, r: 9 },
          style: { fill: "none", stroke: "#666", lineWidth: 1 },
        },
        {
          type: "line",
          silent: true,
          z: -1,
          shape: { x1: 19, y1: 8.5, x2: 957, y2: 8.5 },
          style: { stroke: "#222", lineWidth: 1 },
        },
        {
          type: "text",
          silent: true,
          x: 27,
          y: 428.5,
          scaleX: stretch,
          style: {
            text: "{b|Fig. 4}  " + captionLines[0],
            font: captionFont,
            fill: "#2a2a2a",
            rich: { b: { font: `bold 18px "${CAPTION_FONT}"`, fill: "#111" } },
          },
        },
        ...captionLines.slice(1).map((t, i) => ({
          type: "text",
          silent: true,
          x: 27,
          y: 455.5 + i * 26.7,
          scaleX: stretch,
          style: { text: t, font: captionFont, fill: "#2a2a2a" },
        })),
      ],
    });
    return () => chart.dispose();
  }, []);
  return <div ref={ref} style={{ position: "absolute", left: 0, top: 0, width: 957, height: 565 }} />;
}
